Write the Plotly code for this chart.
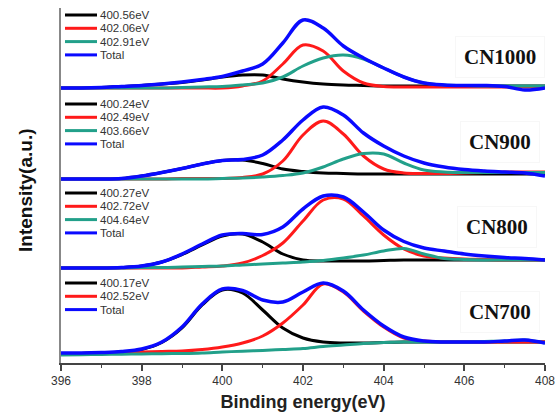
import plotly.graph_objects as go

# ---------------- data ----------------
energy = [396, 396.5, 397, 397.5, 398, 398.5, 399, 399.5, 400, 400.5, 401, 401.5,
          402, 402.5, 403, 403.5, 404, 404.5, 405, 405.5, 406, 406.5, 407, 407.5, 408]

samples = ["CN1000", "CN900", "CN800", "CN700"]
offsets = [275, 184, 95, 8]  # vertical stacking offset of each spectrum

cn1000_c1 = [0, 0, 0.5, 1.5, 2.5, 4, 5.5, 8, 11, 13, 13, 9, 6, 4, 3, 2.5, 2, 2, 2, 2, 2, 2, 2, 2, 2]
cn1000_c2 = [0, 0, 0, 0, 0, 0, 0, 0, 0, 2, 7, 24, 43, 37, 17, 5, 1.5, 1, 1, 1, 1, 1, 1, 1, 1]
cn1000_c3 = [0, 0, 0, 0, 0, 0, 0.5, 1, 1.5, 3, 5, 11, 22, 30, 33, 29, 20, 11, 5, 3, 2.5, 2, 2, 2, 2]
cn1000_tot = [0, 0, 0.5, 1.5, 2.5, 4, 6, 8.5, 11.5, 17, 24, 45, 68, 60, 42, 30, 20, 11, 5, 3, 2.5, 2.5, 1.5, -2, 0]

cn900_c1 = [0, 0, 0, 0.5, 3, 6.5, 10.5, 15, 18.5, 19, 15.5, 10, 7.5, 6, 5.5, 5, 5, 5, 5, 5, 5, 5, 5, 5, 5]
cn900_c2 = [0, 0, 0, 0, 0, 0, 0.5, 0.5, 0.5, 1.5, 5, 18, 44, 58, 45, 23, 10, 6, 5.5, 5.5, 6, 6.5, 7, 7, 7]
cn900_c3 = [0, 0, 0, 0, 0, 0, 0, 0, 0.5, 1, 2, 3.5, 6, 12, 20, 25.5, 25, 16, 9, 7, 6.5, 6.5, 6.5, 6.5, 6.5]
cn900_tot = [0, 0, 0, 0.5, 3, 6.5, 10.5, 15, 18.5, 19.5, 24, 39, 59, 72, 64, 46, 33, 23, 16, 12, 9.5, 8, 7, 6, 3]

cn800_c1 = [0, 0, 0, 0.5, 2, 6, 13.5, 23, 32, 34, 26, 14, 8, 7, 7, 7, 7.5, 8, 8, 8, 8, 8, 8, 8, 8]
cn800_c2 = [0, 0, 0, 0, 0, 0, 0, 1, 2, 5, 12.5, 25, 47, 68, 69, 52, 33, 19, 12, 10, 9, 8.5, 8, 8, 8]
cn800_c3 = [0, 0, 0, 0, 0.5, 0.5, 1, 1.5, 2, 3, 4, 5, 6, 7.5, 10, 13, 17, 19.5, 14, 9.5, 8.5, 8, 8, 8, 8]
cn800_tot = [0, 0, 0, 0.5, 2, 6, 14, 24, 33, 34.5, 33.5, 41, 59, 72, 71, 56, 38, 26.5, 20, 17, 14, 12, 10.5, 9.5, 8]

cn700_c1 = [1, 1.5, 2, 3, 5.5, 12.5, 27, 50, 65, 62, 45, 27, 17, 13, 12, 12, 12.5, 13, 13, 13, 13, 13, 13, 13, 13]
cn700_c2 = [1, 1.5, 2, 2.5, 3, 3.5, 4, 5.5, 8, 12, 19, 32, 50, 71, 63, 44, 28, 17, 14, 13, 13, 13, 13, 13, 13]
cn700_bg = [0, 0.3, 0.5, 0.8, 1, 1.3, 1.5, 2, 3, 3.8, 4.5, 5.5, 6.5, 8.5, 10, 11.5, 12.5, 13, 13, 13, 13, 13.5, 14, 15, 12]
cn700_tot = [2, 2, 2.5, 3.5, 6, 13, 28, 51, 66, 64.5, 55, 53, 63, 72, 64, 45, 29, 18, 14, 13, 13, 13, 14, 15, 12]

legend_labels = [
    ["400.56eV", "402.06eV", "402.91eV", "Total"],
    ["400.24eV", "402.49eV", "403.66eV", "Total"],
    ["400.27eV", "402.72eV", "404.64eV", "Total"],
    ["400.17eV", "402.52eV", "Total"],
]

series = [
    [cn1000_c1, cn1000_c2, cn1000_c3, cn1000_tot],
    [cn900_c1, cn900_c2, cn900_c3, cn900_tot],
    [cn800_c1, cn800_c2, cn800_c3, cn800_tot],
    [cn700_c1, cn700_c2, cn700_bg, cn700_tot],
]

x_ticks = [396, 398, 400, 402, 404, 406, 408]

# ---------------- styling ----------------
BLACK, RED, TEAL, BLUE = "#000000", "#ff1a1a", "#22a08a", "#0a0aff"
panel_colors = [BLACK, RED, TEAL, BLUE]
line_widths = [3, 3, 3, 3.5]
legend_colors = [
    [BLACK, RED, TEAL, BLUE],
    [BLACK, RED, TEAL, BLUE],
    [BLACK, RED, TEAL, BLUE],
    [BLACK, RED, BLUE],
]

W, H = 558, 416
ML, MR, MT, MB = 61, 13, 8, 53
PW, PH = W - ML - MR, H - MT - MB


def px_to_paper(px, py):
    return (px - ML) / PW, (H - MB - py) / PH


fig = go.Figure()
for p, name in enumerate(samples):
    for k, ys in enumerate(series[p]):
        fig.add_trace(go.Scatter(
            x=energy, y=[v + offsets[p] for v in ys],
            mode="lines", line=dict(color=panel_colors[k], width=line_widths[k], shape="spline", smoothing=1.0),
            showlegend=False, hoverinfo="skip"))

shapes, annotations = [], []
legend_top = [15, 104, 193, 283]
row_gap = 13.3
label_pos = [(500, 57), (500, 142), (497, 227), (500, 312)]
for p, name in enumerate(samples):
    for r, lab in enumerate(legend_labels[p]):
        py = legend_top[p] + r * row_gap
        x0, y0 = px_to_paper(65, py)
        x1, _ = px_to_paper(97, py)
        xt, _ = px_to_paper(98, py)
        shapes.append(dict(type="line", xref="paper", yref="paper", x0=x0, x1=x1, y0=y0, y1=y0,
                           line=dict(color=legend_colors[p][r], width=3)))
        annotations.append(dict(xref="paper", yref="paper", x=xt, y=y0, text=lab, showarrow=False,
                                xanchor="left", yanchor="middle",
                                font=dict(family="Arial", size=11.5, color="#333333")))
    lx, ly = px_to_paper(*label_pos[p])
    annotations.append(dict(xref="paper", yref="paper", x=lx, y=ly, text="<b>%s</b>" % name,
                            showarrow=False, xanchor="center", yanchor="middle",
                            font=dict(family="Liberation Serif, Times New Roman, serif", size=21, color="#111111"),
                            bordercolor="#f7f7f7", borderwidth=1, borderpad=8))

yx, yy = px_to_paper(25, 190)
annotations.append(dict(xref="paper", yref="paper", x=yx, y=yy, text="<b>Intensity(a.u.)</b>",
                        textangle=-90, showarrow=False, xanchor="center", yanchor="middle",
                        font=dict(family="Arial", size=19, color="#111111")))

fig.update_layout(
    width=W, height=H,
    margin=dict(l=ML, r=MR, t=MT, b=MB, pad=0),
    plot_bgcolor="white", paper_bgcolor="white",
    shapes=shapes, annotations=annotations,
    xaxis=dict(range=[396, 408], tickvals=x_ticks, ticktext=[str(t) for t in x_ticks],
               showline=True, linecolor="#444444", linewidth=1.5, ticks="outside", ticklen=6,
               tickwidth=1.5, tickcolor="#444444", showgrid=False, zeroline=False,
               tickfont=dict(family="Arial", size=12, color="#333333"),
               minor=dict(dtick=1, tick0=396, ticks="outside", ticklen=3, tickcolor="#444444", tickwidth=1.2),
               title=dict(text="<b>Binding energy(eV)</b>", standoff=8,
                          font=dict(family="Arial", size=18, color="#222222")),
               automargin=False),
    yaxis=dict(range=[0, PH], showline=True, linecolor="#888888", linewidth=2, showticklabels=False,
               ticks="", showgrid=False, zeroline=False, automargin=False),
)

fig.write_html("out.html")
